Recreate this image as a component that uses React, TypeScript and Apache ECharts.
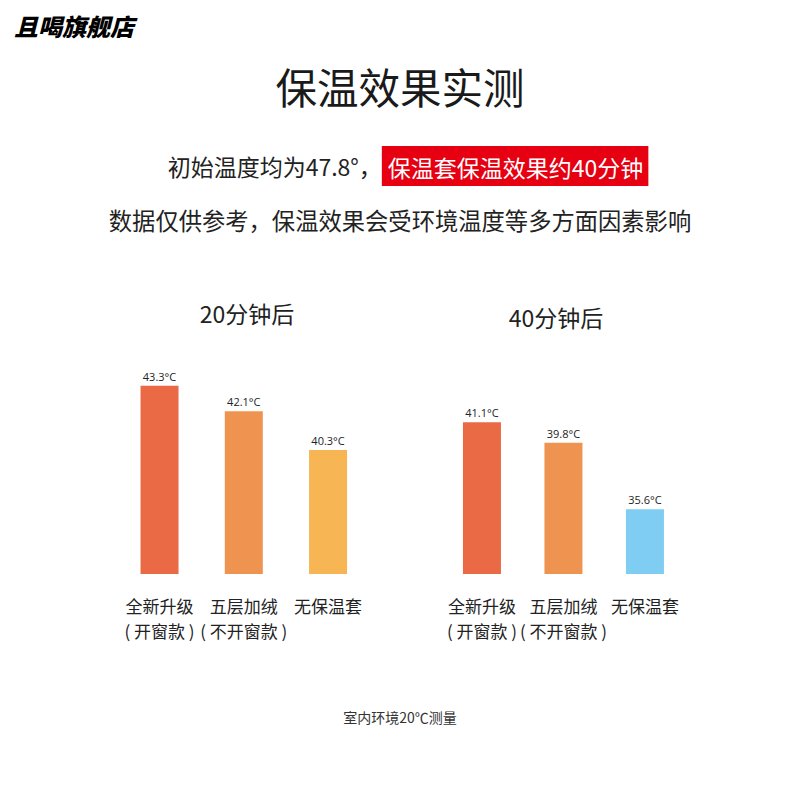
import React, { useEffect, useRef } from "react";
import * as echarts from "echarts";

const categories = ["全新升级\n( 开窗款 )", "五层加绒\n( 不开窗款 )", "无保温套"];
const after20 = [43.3, 42.1, 40.3];
const after40 = [41.1, 39.8, 35.6];
const colors20 = ["#e96a45", "#ef9350", "#f7b554"];
const colors40 = ["#e96a45", "#ef9350", "#7fcdf2"];
const panelTitles = ["20分钟后", "40分钟后"];

const CJK = '"Noto Sans CJK SC", "Noto Sans", sans-serif';

export default function App() {
  const ref = useRef<HTMLDivElement>(null);
  useEffect(() => {
    if (!ref.current) return;
    const chart = echarts.init(ref.current, null, { renderer: "svg" });
    const mkData = (vals: number[], cols: string[]) =>
      vals.map((v, i) => ({ value: v, itemStyle: { color: cols[i] } }));
    const xAxisCommon = {
      type: "category" as const,
      data: categories,
      axisLine: { show: false },
      axisTick: { show: false },
      axisLabel: {
        interval: 0,
        fontSize: 17,
        lineHeight: 25,
        margin: 19,
        color: "#222",
        fontFamily: CJK,
      },
    };
    const labelCommon = {
      show: true,
      position: "top" as const,
      distance: 4,
      fontSize: 11,
      color: "#222",
      fontFamily: '"Open Sans", sans-serif',
      formatter: (p: any) => p.value + "°C",
    };
    chart.setOption({
      animation: false,
      backgroundColor: "#ffffff",
      grid: [
        { left: 117.4, width: 252.8, top: 360, height: 214 },
        { left: 441.2, width: 244.5, top: 416, height: 158 },
      ],
      xAxis: [
        { ...xAxisCommon, gridIndex: 0 },
        { ...xAxisCommon, gridIndex: 1 },
      ],
      yAxis: [
        { type: "value", gridIndex: 0, min: 34.5, max: 44.5, show: false, splitLine: { show: false } },
        { type: "value", gridIndex: 1, min: 31.5, max: 41.5, show: false, splitLine: { show: false } },
      ],
      series: [
        {
          type: "bar",
          xAxisIndex: 0,
          yAxisIndex: 0,
          barWidth: 38,
          data: mkData(after20, colors20),
          label: labelCommon,
        },
        {
          type: "bar",
          xAxisIndex: 1,
          yAxisIndex: 1,
          barWidth: 38,
          data: mkData(after40, colors40),
          label: labelCommon,
        },
      ],
      graphic: [
        {
          type: "text",
          left: 14,
          top: 13,
          style: {
            text: "且喝旗舰店",
            fontSize: 24,
            fontWeight: 900,
            fontStyle: "italic",
            fill: "#000",
            fontFamily: CJK,
          },
        },
        {
          type: "text",
          x: 400,
          y: 86,
          style: {
            text: "保温效果实测",
            fontSize: 41.5,
            fill: "#1a1a1a",
            fontFamily: CJK,
            align: "center",
            verticalAlign: "middle",
          },
        },
        {
          type: "text",
          x: 408,
          y: 166,
          style: {
            text: "{a|初始温度均为47.8°，}{b|保温套保温效果约40分钟}",
            align: "center",
            verticalAlign: "middle",
            fontFamily: CJK,
            rich: {
              a: { fontSize: 23, fill: "#222", fontFamily: CJK },
              b: {
                fontSize: 23,
                fill: "#ffffff",
                fontFamily: CJK,
                backgroundColor: "#e60012",
                padding: [9, 5, 8, 6],
              },
            },
          },
        },
        {
          type: "text",
          x: 400,
          y: 220,
          style: {
            text: "数据仅供参考，保温效果会受环境温度等多方面因素影响",
            fontSize: 23.3,
            fill: "#222",
            fontFamily: CJK,
            align: "center",
            verticalAlign: "middle",
          },
        },
        {
          type: "text",
          x: 247,
          y: 313,
          style: {
            text: panelTitles[0],
            fontSize: 23,
            fill: "#222",
            fontFamily: CJK,
            align: "center",
            verticalAlign: "middle",
          },
        },
        {
          type: "text",
          x: 556,
          y: 317,
          style: {
            text: panelTitles[1],
            fontSize: 23,
            fill: "#222",
            fontFamily: CJK,
            align: "center",
            verticalAlign: "middle",
          },
        },
        {
          type: "text",
          x: 400,
          y: 717,
          style: {
            text: "室内环境20℃测量",
            fontSize: 14,
            fill: "#333",
            fontFamily: CJK,
            align: "center",
            verticalAlign: "middle",
          },
        },
      ],
    });
    return () => chart.dispose();
  }, []);
  return (
    <div
      ref={ref}
      style={{ position: "fixed", left: 0, top: 0, width: 800, height: 800, background: "#fff" }}
    />
  );
}
